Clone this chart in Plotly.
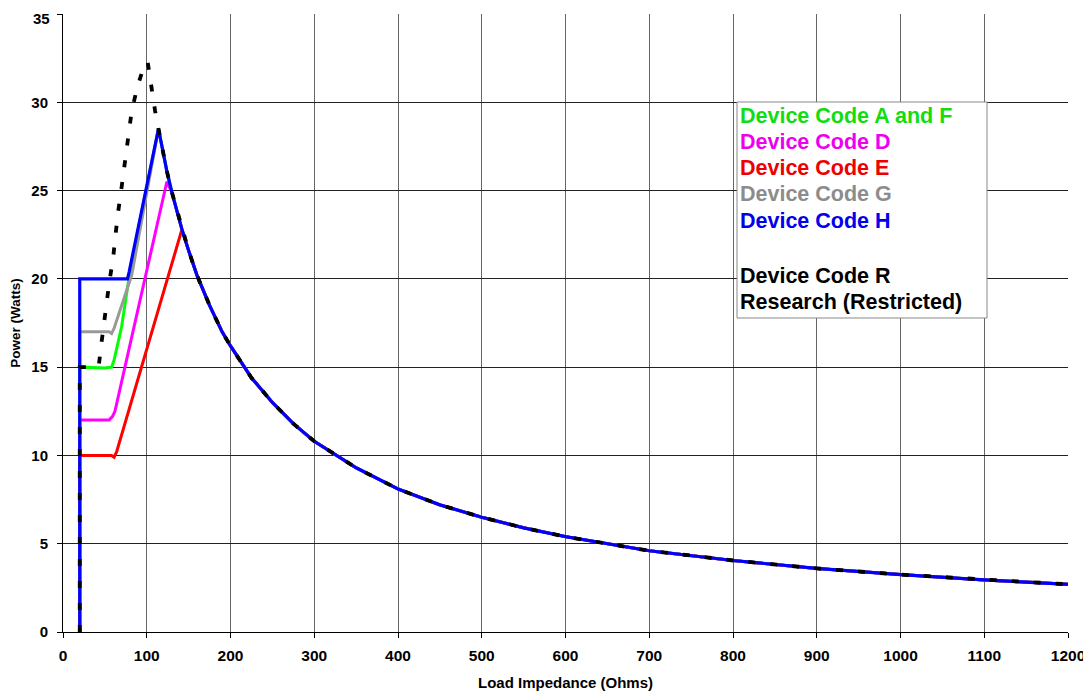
import plotly.graph_objects as go

# ---- data ----
# shared hyperbolic tail (all devices converge onto it)
tail_x = [101, 105, 110, 114, 120, 124, 130, 142, 150, 160, 175, 190, 200, 225, 250, 275,
          300, 350, 400, 450, 500, 550, 600, 650, 700, 800, 900, 1000, 1100, 1200]
tail_p = [32.3, 30.9, 29.5, 28.5, 27.0, 26.1, 24.9, 22.8, 21.6, 20.2, 18.5, 17.0, 16.2, 14.4, 13.0, 11.8,
          10.8, 9.3, 8.1, 7.2, 6.5, 5.9, 5.4, 5.0, 4.6, 4.05, 3.6, 3.25, 2.95, 2.7]

af_x = [20, 20, 50, 58, 61, 70, 78, 80, 114]
af_p = [0, 15, 14.95, 15, 15.4, 17.3, 19.8, 20.5, 28.5]

d_x = [20, 20, 55, 59, 62, 124]
d_p = [0, 12, 12, 12.2, 12.5, 25.5]

e_x = [20, 20, 58, 61, 64, 142]
e_p = [0, 10, 10, 9.9, 10.2, 22.8]

g_x = [20, 20, 55, 58, 61, 82, 114]
g_p = [0, 17, 17, 16.9, 17.2, 20.2, 28.5]

h_x = [20, 20, 77, 79, 114]
h_p = [0, 20, 20, 20.4, 28.5]

r_x = [20, 20, 40, 43, 46, 50, 55, 60, 65, 70, 74, 78, 82, 89, 95, 101]
r_p = [0, 15, 15, 15.2, 16.4, 17.95, 19.7, 21.25, 23.5, 25.2, 26.6, 28.2, 29.5, 30.9, 31.8, 32.3]

legend_labels = ["Device Code A and F", "Device Code D", "Device Code E",
                 "Device Code G", "Device Code H", "Device Code R", "Research (Restricted)"]

x_ticks = list(range(0, 1201, 100))
y_ticks = list(range(0, 36, 5))


def with_tail(hx, hp):
    start = hx[-1]
    tx = [x for x in tail_x if x > start]
    tp = [p for x, p in zip(tail_x, tail_p) if x > start]
    return hx + tx, hp + tp


series = [
    ("A and F", af_x, af_p, "#00FF00", "solid", 3),
    ("D", d_x, d_p, "#FF00FF", "solid", 3),
    ("E", e_x, e_p, "#FF0000", "solid", 3),
    ("G", g_x, g_p, "#999999", "solid", 3),
    ("H", h_x, h_p, "#0000FF", "solid", 3.2),
    ("R", r_x, r_p, "#000000", "7px,15px", 3.8),
]

fig = go.Figure()
for name, hx, hp, col, dash, w in series:
    xs, ps = with_tail(hx, hp)
    fig.add_trace(go.Scatter(x=xs, y=ps, mode="lines", name=name,
                             line=dict(color=col, width=w, dash=dash),
                             showlegend=False))

# page has an 8px body margin: figure coords = screen coords - 8
OFF = 8
W, H = 1091 - OFF, 696 - OFF
L, T = 63 - OFF, 14 - OFF
R = W - (1068 - OFF)
B = H - (632 - OFF)
pw, ph = W - L - R, H - T - B


def px(xs):
    return (xs - OFF - L) / pw


def py(ys):
    return (H - B - (ys - OFF)) / ph


font_main = "Liberation Sans, Arial, sans-serif"

# legend box (screen pixel positions from the reference)
fig.add_shape(type="rect", xref="paper", yref="paper",
              x0=px(737), x1=px(987), y0=py(318), y1=py(102),
              line=dict(color="#888888", width=1), fillcolor="white", layer="above")

leg_cols = ["#11DD11", "#EE00EE", "#EE0000", "#8C8C8C", "#0000EE", "#000000", "#000000"]
leg_y = [116, 142, 168, 194, 221, 276, 302]
for lab, c, yy in zip(legend_labels, leg_cols, leg_y):
    fig.add_annotation(text="<b>%s</b>" % lab, xref="paper", yref="paper",
                       x=px(738), y=py(yy), xanchor="left", yanchor="middle",
                       showarrow=False, font=dict(family=font_main, size=21.5, color=c))

# top y tick label drawn as annotation so it is not clipped at the page edge
y_top = y_ticks[-1]
fig.add_annotation(text="<b>%d</b>" % y_top, xref="paper", yref="y", x=0, y=y_top,
                   xanchor="right", yanchor="top", xshift=-11, yshift=6,
                   showarrow=False, font=dict(family=font_main, size=15, color="black"))

fig.update_layout(
    width=W, height=H,
    margin=dict(l=L, r=R, t=T, b=B, autoexpand=False),
    paper_bgcolor="white", plot_bgcolor="white",
    font=dict(family=font_main, color="black"),
)
fig.update_xaxes(range=[0, 1200], tickvals=x_ticks, ticktext=["<b>%d</b>" % v for v in x_ticks],
                 showgrid=True, gridcolor="#666666", gridwidth=1,
                 showline=True, linecolor="black", linewidth=1,
                 ticks="outside", ticklen=5, tickcolor="black",
                 tickfont=dict(size=15.5, family=font_main), ticklabelstandoff=4,
                 ticklabeloverflow="allow",
                 title=dict(text="<b>Load Impedance (Ohms)</b>", font=dict(size=15, family=font_main), standoff=14),
                 zeroline=False, mirror=False, automargin=False)
fig.update_yaxes(range=[0, 35], tickvals=y_ticks,
                 ticktext=["<b>%d</b>" % v if v != y_top else "" for v in y_ticks],
                 showgrid=True, gridcolor="#222222", gridwidth=1,
                 showline=True, linecolor="black", linewidth=1,
                 ticks="outside", ticklen=5, tickcolor="black",
                 tickfont=dict(size=15, family=font_main), ticklabelstandoff=6,
                 ticklabeloverflow="allow",
                 title=dict(text="<b>Power (Watts)</b>", font=dict(size=13.5, family=font_main), standoff=12),
                 zeroline=False, automargin=False)

fig.write_html("out.html")
